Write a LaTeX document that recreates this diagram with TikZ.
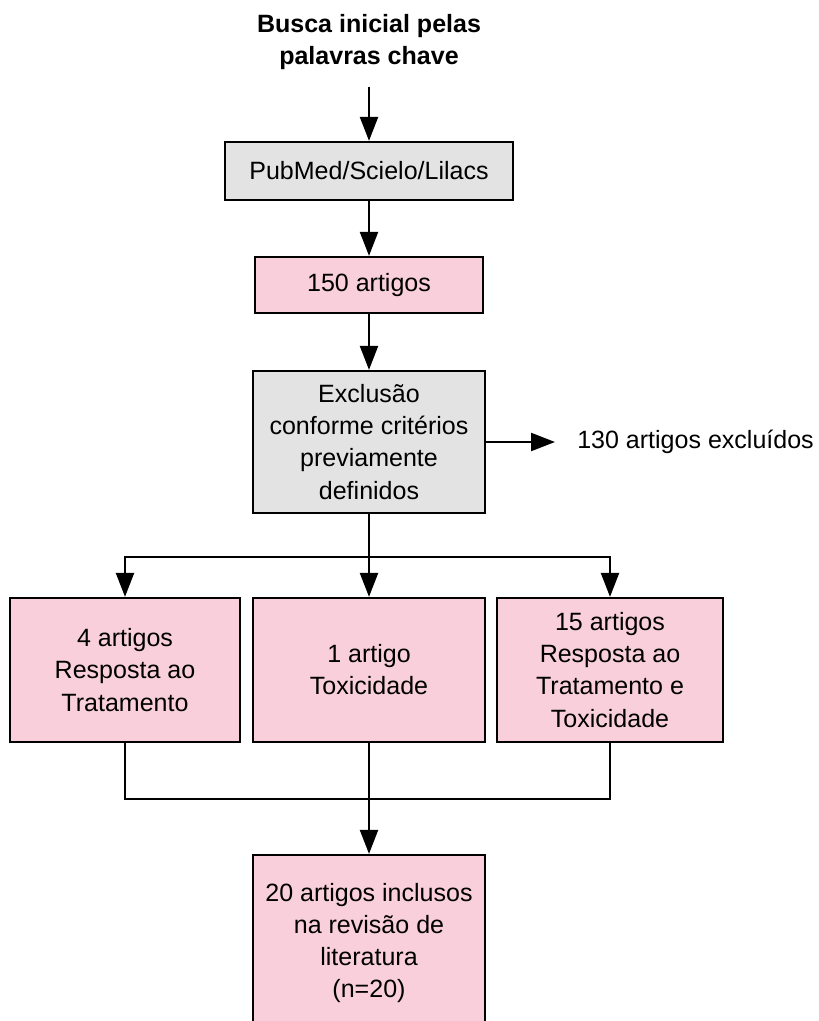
\documentclass[tikz,border=0pt]{standalone}
\usepackage{fontspec}
\setmainfont{Liberation Sans}
\usetikzlibrary{arrows.meta}

\definecolor{rosa}{RGB}{248,207,219}
\definecolor{cinza}{RGB}{227,227,227}

\begin{document}
\begin{tikzpicture}[
  texto/.style = {align=center, font=\fontsize{17.8}{22.8}\selectfont},
  caixa/.style = {texto, draw, line width=1.6pt, inner sep=0pt},
  linha/.style = {line width=1.6pt},
  seta/.style = {linha, -{Triangle[length=.6cm, width=.45cm]}}
]
\useasboundingbox (0,0) rectangle (20.475,-25.525);
\clip (0,0) rectangle (20.475,-25.525);

\node[texto, font=\fontsize{17.8}{22.8}\selectfont\bfseries] (busca) at (9.225,-1.05) {Busca inicial pelas\\palavras chave};
\node[caixa, fill=cinza, minimum width=7.2cm, minimum height=1.45cm] (pubmed) at (9.225,-4.275) {PubMed/Scielo/Lilacs};
\node[caixa, fill=rosa, minimum width=5.7cm, minimum height=1.4cm] (artigos) at (9.225,-7.125) {150 artigos};
\node[caixa, fill=cinza, minimum width=5.8cm, minimum height=3.55cm] (exclusao) at (9.225,-11.05) {Exclus\~ao\\conforme crit\'erios\\previamente\\definidos};
\node[texto, anchor=west, inner sep=0pt] (excluidos) at (14.425,-11.05) {130 artigos exclu\'idos};

\node[caixa, fill=rosa, minimum width=5.75cm, minimum height=3.6cm] (trat1) at (3.125,-16.75) {4 artigos\\Resposta ao\\Tratamento};
\node[caixa, fill=rosa, minimum width=5.8cm, minimum height=3.6cm] (toxic) at (9.225,-16.75) {1 artigo\\Toxicidade};
\node[caixa, fill=rosa, minimum width=5.65cm, minimum height=3.6cm] (trat3) at (15.25,-16.75) {15 artigos\\Resposta ao\\Tratamento e\\Toxicidade};

\node[caixa, fill=rosa, minimum width=5.8cm, minimum height=4.4cm] (inclusos) at (9.225,-23.575) {20 artigos inclusos\\na revis\~ao de\\literatura\\(n=20)};

% fluxo principal
\draw[seta, shorten <=.3cm] (busca) -- (pubmed);
\draw[seta] (pubmed) -- (artigos);
\draw[seta] (artigos) -- (exclusao);
\draw[seta, shorten >=.55cm] (exclusao) -- (excluidos);

% ramos
\draw[seta] (exclusao.south) -- ++(0,-1.075) -| (trat1.north);
\draw[seta] (exclusao.south) -- ++(0,-1.075) -| (trat3.north);
\draw[seta] (exclusao) -- (toxic);

% juncao
\draw[linha] (trat1.south) -- ++(0,-1.4) -| (trat3.south);
\draw[seta] (toxic) -- (inclusos);
\end{tikzpicture}
\end{document}
